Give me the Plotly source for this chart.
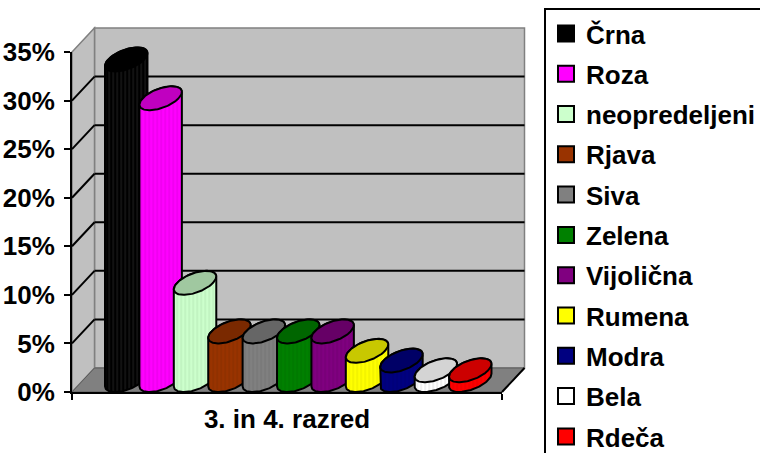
import math
import numpy as np
import plotly.graph_objects as go

# ---------------- data ----------------
categories = ["Črna", "Roza", "neopredeljeni", "Rjava", "Siva", "Zelena",
              "Vijolična", "Rumena", "Modra", "Bela", "Rdeča"]
values = [0.33, 0.29, 0.10, 0.05, 0.05, 0.05, 0.05, 0.03, 0.02, 0.01, 0.01]
body_colors = ["#000000", "#ff00ff", "#ccffcc", "#993300", "#808080", "#008000",
               "#800080", "#ffff00", "#000080", "#ffffff", "#ff0000"]
cap_colors = ["#000000", "#c000c0", "#a0c8a0", "#7a2900", "#666666", "#006600",
              "#660066", "#c8c800", "#000066", "#d4d4d4", "#cc0000"]
stripe_colors = ["#3a3a3a", "#d000d0", "#a8d8a8", "#7a2900", "#6a6a6a", "#006a00",
                 "#660066", "#d8d800", "#00006a", "#c8c8c8", "#d80000"]
y_ticks = [0, 0.05, 0.10, 0.15, 0.20, 0.25, 0.30, 0.35]
grid_vals = [0.05, 0.10, 0.15, 0.20, 0.25, 0.30]
x_title = "3. in 4. razred"

# ---------------- layout geometry (pixels) ----------------
W, H = 760, 453
X0, XR = 72, 502          # front floor edge
Y0, YT = 392, 52          # 0% and 35% on the front axis
DX, DY = 22.5, 24         # depth offset of the back wall
YMAX = 0.35
XMIN, XMAX = -1.25, 11.25
R_PX = 18                 # cylinder radius in px
PAD = 20                  # extra room around the cylinder axis (px)

FONT = "Liberation Sans, Arial, sans-serif"


def fx(px):
    return px / W


def fy(py):
    return 1 - py / H


def dom_x(a, b):
    return [fx(a), fx(b)]


def dom_y(bottom, top):
    return [fy(bottom), fy(top)]


PXX = (XR - X0) / (XMAX - XMIN)     # px per x unit
UPY = YMAX / (Y0 - YT)              # y units per px


def vy(v, depth=0.0):
    """pixel row of value v on a plane shifted back by depth*DY"""
    return Y0 - depth * DY - v / UPY


fig = go.Figure()

th_m = math.atan2(DX / 2, R_PX)
t_back = np.linspace(th_m, th_m + math.pi, 60)
t_front = np.linspace(th_m + math.pi, th_m + 2 * math.pi, 60)
t_full = np.linspace(0, 2 * math.pi, 120)


def ell(cx, cy, t):
    ex = cx + (R_PX * np.cos(t) + DX / 2 * np.sin(t)) / PXX
    ey = cy + (DY / 2 * np.sin(t)) * UPY
    return ex, ey


# legend entries (carried by the front axes so that they are drawn)
for i, cat in enumerate(categories):
    fig.add_trace(go.Scatter(
        x=[None], y=[None], mode="markers", name="<b>" + cat + "</b>", legendgroup=cat,
        marker=dict(symbol="square", size=16, color=body_colors[i],
                    line=dict(color="black", width=2)),
        xaxis="x", yaxis="y"))

for i, (cat, v) in enumerate(zip(categories, values)):
    fig.add_trace(go.Bar(x=[i], y=[v], width=1.8 * R_PX / PXX,
                         marker=dict(color=body_colors[i], line=dict(width=0)),
                         xaxis="x3", yaxis="y3", showlegend=False, hoverinfo="skip"))

for i, (cat, v) in enumerate(zip(categories, values)):
    bx, by = ell(i, v, t_back)
    fx2, fy2 = ell(i, 0, t_front)
    sx = np.concatenate([bx, fx2, bx[:1]])
    sy = np.concatenate([by, fy2, by[:1]])
    fig.add_trace(go.Scatter(
        x=sx, y=sy, mode="lines", fill="toself", fillcolor=body_colors[i],
        fillpattern=dict(shape="|", bgcolor=body_colors[i], fgcolor=stripe_colors[i],
                         size=4, solidity=0.3),
        line=dict(color="black", width=2), xaxis="x3", yaxis="y3",
        showlegend=False, hoverinfo="skip"))
    cx_, cy_ = ell(i, v, t_full)
    fig.add_trace(go.Scatter(
        x=cx_, y=cy_, mode="lines", fill="toself", fillcolor=cap_colors[i],
        line=dict(color="black", width=2), xaxis="x3", yaxis="y3",
        showlegend=False, hoverinfo="skip"))

# walls & floor
shapes = []
shapes.append(dict(type="rect", xref="paper", yref="paper", layer="below",
                   x0=fx(X0 + DX), x1=fx(XR + DX), y0=fy(Y0 - DY), y1=fy(YT - DY),
                   fillcolor="#c0c0c0", line=dict(color="#808080", width=1.5)))
side = "M {} {} L {} {} L {} {} L {} {} Z".format(
    fx(X0), fy(Y0), fx(X0), fy(YT), fx(X0 + DX), fy(YT - DY), fx(X0 + DX), fy(Y0 - DY))
shapes.append(dict(type="path", xref="paper", yref="paper", layer="below", path=side,
                   fillcolor="#c0c0c0", line=dict(color="#808080", width=1.5)))
floor = "M {} {} L {} {} L {} {} L {} {} Z".format(
    fx(X0), fy(Y0), fx(XR), fy(Y0), fx(XR + DX), fy(Y0 - DY), fx(X0 + DX), fy(Y0 - DY))
shapes.append(dict(type="path", xref="paper", yref="paper", layer="below", path=floor,
                   fillcolor="#808080", line=dict(color="#5a5a5a", width=1)))
shapes.append(dict(type="line", xref="paper", yref="paper", layer="below",
                   x0=fx(XR), y0=fy(Y0), x1=fx(XR + DX), y1=fy(Y0 - DY),
                   line=dict(color="black", width=2)))
for g in grid_vals:
    shapes.append(dict(type="line", xref="paper", yref="paper", layer="below",
                       x0=fx(X0), y0=fy(vy(g)), x1=fx(X0 + DX), y1=fy(vy(g, 1)),
                       line=dict(color="black", width=2)))
    shapes.append(dict(type="line", xref="paper", yref="paper", layer="below",
                       x0=fx(X0 + DX), y0=fy(vy(g, 1)), x1=fx(XR + DX), y1=fy(vy(g, 1)),
                       line=dict(color="black", width=2)))

axis_font = dict(family=FONT, size=26, color="black", weight="bold")

fig.update_layout(
    width=W, height=H,
    margin=dict(l=0, r=0, t=0, b=0, pad=0, autoexpand=False),
    paper_bgcolor="white", plot_bgcolor="rgba(0,0,0,0)",
    barmode="overlay",
    shapes=shapes,
    xaxis=dict(domain=dom_x(X0, XR), range=[0, 1], anchor="y",
               tickvals=[0, 1], ticktext=["", ""], ticks="outside", ticklen=6,
               tickwidth=2, tickcolor="black", showline=True, linecolor="black",
               linewidth=2, showgrid=False, zeroline=False, fixedrange=True,
               title=dict(text="<b>" + x_title + "</b>", font=axis_font, standoff=8)),
    yaxis=dict(domain=dom_y(Y0, YT), range=[0, YMAX], anchor="x",
               tickvals=y_ticks, tickformat=".0%", ticks="outside", ticklen=6,
               tickwidth=2, tickcolor="black", showline=True, linecolor="black",
               linewidth=2, showgrid=False, zeroline=False, tickfont=axis_font,
               ticklabelstandoff=4, fixedrange=True),
    xaxis3=dict(domain=dom_x(X0 + DX / 2, XR + DX / 2), range=[XMIN, XMAX],
                anchor="y3", visible=False, fixedrange=True),
    yaxis3=dict(domain=dom_y(Y0 - DY / 2 + PAD, YT - DY / 2 - PAD),
                range=[-PAD * UPY, YMAX + PAD * UPY],
                anchor="x3", visible=False, fixedrange=True),
    legend=dict(x=fx(544), y=fy(8), xanchor="left", yanchor="top",
                bgcolor="white", bordercolor="black", borderwidth=2,
                font=dict(family=FONT, size=26, color="black", weight="bold"),
                tracegroupgap=3.5, itemsizing="trace", maxheight=600),
    showlegend=True,
)

fig.write_html("out.html", config={"displayModeBar": False},
               post_script="document.body.style.margin='0px';")
